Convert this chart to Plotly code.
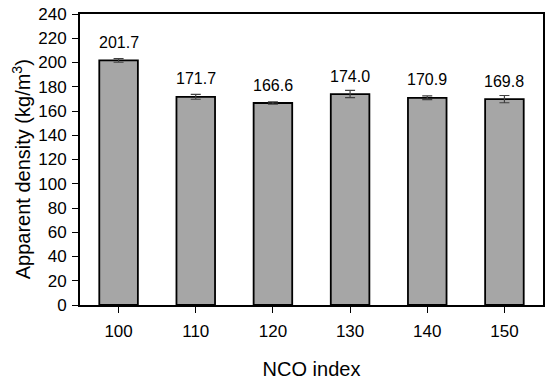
import plotly.graph_objects as go

categories = ["100", "110", "120", "130", "140", "150"]
density = [201.7, 171.7, 166.6, 174.0, 170.9, 169.8]
errors = [1.5, 2.0, 1.0, 3.0, 1.5, 3.0]
labels = ["201.7", "171.7", "166.6", "174.0", "170.9", "169.8"]

FONT = "Liberation Sans, Arial, sans-serif"

fig = go.Figure()
fig.add_trace(go.Bar(
    x=categories, y=density, width=0.5,
    marker=dict(color="#a6a6a6", line=dict(color="black", width=1.8)),
    error_y=dict(type="data", array=errors, visible=True, color="#404040", thickness=1.2, width=5),
    showlegend=False,
))
for i, (v, t) in enumerate(zip(density, labels)):
    fig.add_annotation(x=i, y=v, text=t, showarrow=False, yshift=18,
                       font=dict(size=16, color="black", family=FONT))

# y-axis title placed like the reference (slightly below plot centre)
fig.add_annotation(xref="paper", yref="paper", x=-0.127, y=0.467, textangle=-90,
                   xanchor="center", yanchor="middle",
                   text="Apparent density (kg/m<sup>3</sup>)", showarrow=False,
                   font=dict(size=20, color="black", family=FONT))

fig.update_layout(
    width=550, height=382,
    margin=dict(l=80, r=7, t=14, b=77),
    plot_bgcolor="white", paper_bgcolor="white",
    font=dict(family=FONT, color="black"),
)
fig.update_xaxes(
    type="category", range=[-0.5, len(categories) - 0.5], automargin=False,
    showline=True, linecolor="black", linewidth=1.8, mirror=True,
    ticks="outside", ticklen=6, tickwidth=1.2, tickcolor="black",
    tickfont=dict(size=17), showgrid=False, ticklabelstandoff=4,
    title=dict(text="NCO index", font=dict(size=20), standoff=22),
)
fig.update_yaxes(
    range=[0, 240], dtick=20, automargin=False,
    showline=True, linecolor="black", linewidth=1.8, mirror=True,
    ticks="outside", ticklen=6, tickwidth=1.2, tickcolor="black",
    tickfont=dict(size=17), showgrid=False, zeroline=False, ticklabelstandoff=2,
)
fig.write_html("out.html", config={"displayModeBar": False},
               post_script="document.body.style.margin='0';")
